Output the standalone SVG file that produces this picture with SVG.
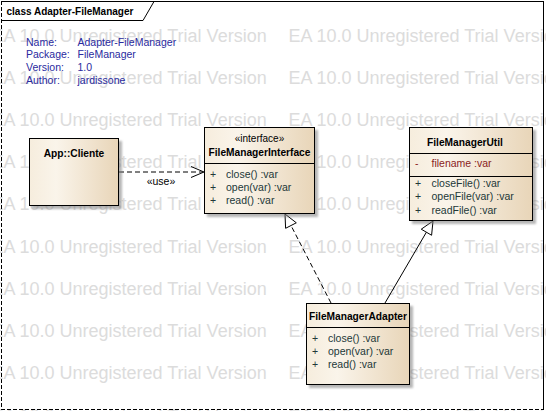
<svg xmlns="http://www.w3.org/2000/svg" width="546" height="411" viewBox="0 0 546 411">
<defs>
<linearGradient id="nodeFill" x1="0" y1="0" x2="1" y2="0">
<stop offset="0" stop-color="#f6eddd"/>
<stop offset="0.3" stop-color="#faf4ea"/>
<stop offset="1" stop-color="#e8d5b8"/>
</linearGradient>
<filter id="blur" x="-10%" y="-10%" width="130%" height="130%"><feGaussianBlur stdDeviation="1.2"/></filter>
<style>
.wm{font-family:"Liberation Sans",Arial,sans-serif;font-size:18px;fill:#dcdcdc}
.box{fill:url(#nodeFill);stroke:#000;stroke-width:1}
.shadow{fill:#7a7a7a;opacity:.55;filter:url(#blur)}
.div{stroke:#000;stroke-width:1}
.title{font-family:"Liberation Sans",Arial,sans-serif;font-size:10.2px;font-weight:bold;fill:#000;text-anchor:middle}
.stereo{font-family:"Liberation Sans",Arial,sans-serif;font-size:10px;fill:#000;text-anchor:middle}
.mem{font-family:"Liberation Sans",Arial,sans-serif;font-size:10.5px;fill:#223838}
.attr{font-family:"Liberation Sans",Arial,sans-serif;font-size:10.5px;fill:#8a1c1c}
.note{font-family:"Liberation Sans",Arial,sans-serif;font-size:10.5px;fill:#2a2a9e}
.lbl{font-family:"Liberation Sans",Arial,sans-serif;font-size:10.5px;fill:#000;text-anchor:middle}
.solid{fill:none;stroke:#000;stroke-width:1}
.dash{fill:none;stroke:#000;stroke-width:1;stroke-dasharray:5,3}
.head{fill:#fff;stroke:#000;stroke-width:1}
</style>
</defs>
<rect width="546" height="411" fill="#fff"/>
<g id="watermark">
<text class="wm" x="-8.5" y="41.5">EA 10.0 Unregistered Trial Version</text><text class="wm" x="288.5" y="41.5">EA 10.0 Unregistered Trial Version</text>
<text class="wm" x="-8.5" y="83.6">EA 10.0 Unregistered Trial Version</text><text class="wm" x="288.5" y="83.6">EA 10.0 Unregistered Trial Version</text>
<text class="wm" x="-8.5" y="125.8">EA 10.0 Unregistered Trial Version</text><text class="wm" x="288.5" y="125.8">EA 10.0 Unregistered Trial Version</text>
<text class="wm" x="-8.5" y="168">EA 10.0 Unregistered Trial Version</text><text class="wm" x="288.5" y="168">EA 10.0 Unregistered Trial Version</text>
<text class="wm" x="-8.5" y="210.3">EA 10.0 Unregistered Trial Version</text><text class="wm" x="288.5" y="210.3">EA 10.0 Unregistered Trial Version</text>
<text class="wm" x="-8.5" y="252.5">EA 10.0 Unregistered Trial Version</text><text class="wm" x="288.5" y="252.5">EA 10.0 Unregistered Trial Version</text>
<text class="wm" x="-8.5" y="294.8">EA 10.0 Unregistered Trial Version</text><text class="wm" x="288.5" y="294.8">EA 10.0 Unregistered Trial Version</text>
<text class="wm" x="-8.5" y="337">EA 10.0 Unregistered Trial Version</text><text class="wm" x="288.5" y="337">EA 10.0 Unregistered Trial Version</text>
<text class="wm" x="-8.5" y="379.3">EA 10.0 Unregistered Trial Version</text><text class="wm" x="288.5" y="379.3">EA 10.0 Unregistered Trial Version</text>
<text class="wm" x="-8.5" y="421.5">EA 10.0 Unregistered Trial Version</text><text class="wm" x="288.5" y="421.5">EA 10.0 Unregistered Trial Version</text>
</g>
<g id="frame">
<line class="solid" x1="1" y1="1.5" x2="544" y2="1.5"/>
<line class="solid" x1="543.5" y1="1" x2="543.5" y2="410"/>
<line x1="1.5" y1="1" x2="1.5" y2="409.5" stroke="#000" stroke-width="1" stroke-dasharray="4,2"/>
<line x1="1" y1="409.5" x2="544" y2="409.5" stroke="#000" stroke-width="1" stroke-dasharray="4,2"/>
<polyline class="solid" points="1.5,20.5 143,20.5 154,1.5"/>
<text x="6.5" y="14.5" font-family="'Liberation Sans',Arial,sans-serif" font-size="10" font-weight="bold" fill="#000">class Adapter-FileManager</text>
</g>
<g id="notes">
<text class="note" x="26" y="45.5">Name:</text><text class="note" x="77.5" y="45.5">Adapter-FileManager</text>
<text class="note" x="26" y="58.3">Package:</text><text class="note" x="77.5" y="58.3">FileManager</text>
<text class="note" x="26" y="71.1">Version:</text><text class="note" x="77.5" y="71.1">1.0</text>
<text class="note" x="26" y="83.9">Author:</text><text class="note" x="77.5" y="83.9">jardissone</text>
</g>
<g id="connectors">
<g id="use-dependency">
<line class="dash" x1="119" y1="172" x2="203" y2="172"/>
<polyline class="solid" points="191,166.5 204,172 191,177.5"/>
<text class="lbl" x="161" y="185">«use»</text>
</g>
<g id="realization">
<line class="dash" x1="331" y1="303" x2="291" y2="225.5"/>
<polygon class="head" points="285,214 296.3,222.8 285.6,228.3"/>
</g>
<g id="generalization">
<line class="solid" x1="385" y1="303" x2="426.4" y2="232.2"/>
<polygon class="head" points="433,221 431.6,235.25 421.25,229.2"/>
</g>
</g>
<g id="node-cliente">
<rect class="shadow" x="32" y="141" width="90" height="68"/>
<rect class="box" x="29.5" y="138.5" width="89" height="67"/>
<text class="title" x="74" y="156.5">App::Cliente</text>
</g>
<g id="node-filemanagerinterface">
<rect class="shadow" x="207" y="130" width="111" height="87"/>
<rect class="box" x="204.5" y="127.5" width="110" height="86"/>
<text class="stereo" x="259.5" y="141.5">«interface»</text>
<text class="title" x="259.5" y="155.5">FileManagerInterface</text>
<line class="div" x1="204.5" y1="163.5" x2="314.5" y2="163.5"/>
<text class="mem" x="210" y="177.5">+</text><text class="mem" x="226" y="177.5">close() :var</text>
<text class="mem" x="210" y="190.8">+</text><text class="mem" x="226" y="190.8">open(var) :var</text>
<text class="mem" x="210" y="204.1">+</text><text class="mem" x="226" y="204.1">read() :var</text>
</g>
<g id="node-filemanagerutil">
<rect class="shadow" x="412" y="130" width="124" height="94"/>
<rect class="box" x="409.5" y="127.5" width="123" height="93"/>
<text class="title" x="465" y="146">FileManagerUtil</text>
<line class="div" x1="409.5" y1="153.5" x2="532.5" y2="153.5"/>
<text class="attr" x="415" y="166.5">-</text><text class="attr" x="431.5" y="166.5">filename :var</text>
<line class="div" x1="409.5" y1="176.5" x2="532.5" y2="176.5"/>
<text class="mem" x="415" y="187.2">+</text><text class="mem" x="431.5" y="187.2">closeFile() :var</text>
<text class="mem" x="415" y="200.4">+</text><text class="mem" x="431.5" y="200.4">openFile(var) :var</text>
<text class="mem" x="415" y="213.6">+</text><text class="mem" x="431.5" y="213.6">readFile() :var</text>
</g>
<g id="node-filemanageradapter">
<rect class="shadow" x="309" y="306" width="104" height="82"/>
<rect class="box" x="306.5" y="303.5" width="103" height="81"/>
<text class="title" x="358" y="320">FileManagerAdapter</text>
<line class="div" x1="306.5" y1="327.5" x2="409.5" y2="327.5"/>
<text class="mem" x="312" y="342">+</text><text class="mem" x="328" y="342">close() :var</text>
<text class="mem" x="312" y="355">+</text><text class="mem" x="328" y="355">open(var) :var</text>
<text class="mem" x="312" y="368">+</text><text class="mem" x="328" y="368">read() :var</text>
</g>
</svg>
